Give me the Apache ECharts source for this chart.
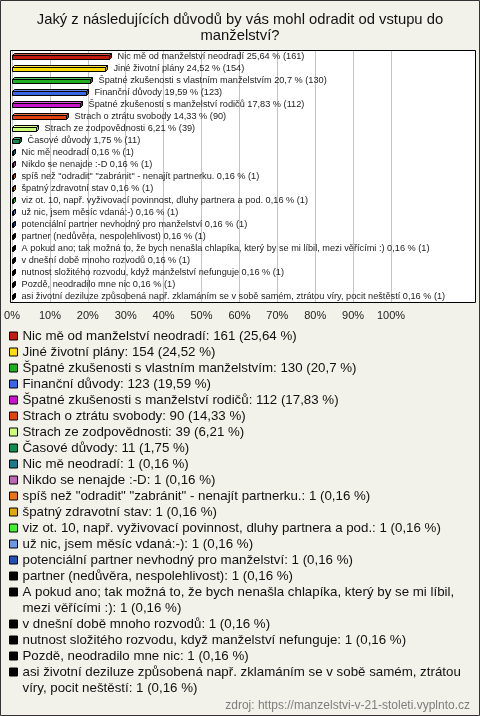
<!DOCTYPE html>
<html>
<head>
<meta charset="utf-8">
<script src="https://cdn.jsdelivr.net/npm/echarts@6/dist/echarts.min.js"></script>
<style>
html,body{margin:0;padding:0;background:#f3f2ea;}
#chart{width:480px;height:716px;}
</style>
</head>
<body>
<div id="chart"></div>
<script>
const titleText = 'Jaký z následujících důvodů by vás mohl odradit od vstupu do\nmanželství?';
const sourceText = 'zdroj: https://manzelstvi-v-21-stoleti.vyplnto.cz';

const categories = [
  'Nic mě od manželství neodradí',
  'Jiné životní plány',
  'Špatné zkušenosti s vlastním manželstvím',
  'Finanční důvody',
  'Špatné zkušenosti s manželství rodičů',
  'Strach o ztrátu svobody',
  'Strach ze zodpovědnosti',
  'Časové důvody',
  'Nic mě neodradí',
  'Nikdo se nenajde :-D',
  'spíš než "odradit" "zabránit" - nenajít partnerku.',
  'špatný zdravotní stav',
  'viz ot. 10, např. vyživovací povinnost, dluhy partnera a pod.',
  'už nic, jsem měsíc vdaná:-)',
  'potenciální partner nevhodný pro manželství',
  'partner (nedůvěra, nespolehlivost)',
  'A pokud ano; tak možná to, že bych nenašla chlapíka, který by se mi líbil, mezi věřícími :)',
  'v dnešní době mnoho rozvodů',
  'nutnost složitého rozvodu, když manželství nefunguje',
  'Pozdě, neodradilo mne nic',
  'asi životní deziluze způsobená např. zklamáním se v sobě samém, ztrátou víry, pocit neštěstí'
];
const percents = [25.64, 24.52, 20.7, 19.59, 17.83, 14.33, 6.21, 1.75, 0.16, 0.16, 0.16, 0.16, 0.16, 0.16, 0.16, 0.16, 0.16, 0.16, 0.16, 0.16, 0.16];
const counts = [161, 154, 130, 123, 112, 90, 39, 11, 1, 1, 1, 1, 1, 1, 1, 1, 1, 1, 1, 1, 1];
const colors = ['#c21a0e', '#ffdd00', '#1fae1f', '#3a66e6', '#c814c8', '#e0420e', '#ccff77', '#138a52',
  '#1e7a8c', '#c064b4', '#e87512', '#dea600', '#44ee33', '#6d97e0', '#2450b0',
  '#000000', '#000000', '#000000', '#000000', '#000000', '#000000'];
const xTickMax = 100, xTickStep = 10;

const FONT = '"Liberation Sans", Arial, sans-serif';
const fmt = v => String(v).replace('.', ',');

function mix(hex, target, t) {
  const n = parseInt(hex.slice(1), 16);
  const r = (n >> 16) & 255, g = (n >> 8) & 255, b = n & 255;
  const m = c => Math.round(c + (target - c) * t);
  return 'rgb(' + m(r) + ',' + m(g) + ',' + m(b) + ')';
}

function renderBar(params, api) {
  const val = api.value(0), cat = api.value(1);
  const s = api.coord([0, cat]), e = api.coord([val, cat]);
  const yc = Math.round(s[1]);
  const x0 = Math.round(s[0]) + 0.5;
  const x1 = Math.max(Math.round(e[0]) + 0.5, x0 + 1);
  const d = 2, top = yc - 1.5, bot = yc + 2.5;
  const i = params.seriesIndex;
  const col = colors[i];
  return {
    type: 'group',
    children: [
      {type: 'polygon', shape: {points: [[x0, top], [x0 + d, top - d], [x1 + d, top - d], [x1, top]]},
        style: {fill: mix(col, 255, 0.25), stroke: '#000', lineWidth: 1}},
      {type: 'polygon', shape: {points: [[x1, top], [x1 + d, top - d], [x1 + d, bot - d], [x1, bot]]},
        style: {fill: mix(col, 0, 0.25), stroke: '#000', lineWidth: 1}},
      {type: 'rect', shape: {x: x0, y: top, width: x1 - x0, height: bot - top},
        style: {fill: col, stroke: '#000', lineWidth: 1}},
      {type: 'text', x: x1 + d + 6, y: yc - 1,
        style: {text: categories[i] + ' ' + fmt(percents[i]) + ' % (' + counts[i] + ')',
          font: '9.2px ' + FONT, fill: '#222', verticalAlign: 'middle', align: 'left'}}
    ]
  };
}

// legend text with greedy word wrap measured on a canvas
const legendFontSize = 13.3, legendWrap = 444;
const measureCtx = document.createElement('canvas').getContext('2d');
measureCtx.font = legendFontSize + 'px ' + FONT;
function wrapText(text, maxW) {
  const words = text.split(' ');
  const lines = [];
  let cur = '';
  words.forEach(w => {
    const cand = cur ? cur + ' ' + w : w;
    if (cur && measureCtx.measureText(cand).width > maxW) { lines.push(cur); cur = w; }
    else cur = cand;
  });
  if (cur) lines.push(cur);
  return lines.join('\n');
}
function legendLabel(i) { return wrapText(categories[i] + ': ' + counts[i] + ' (' + fmt(percents[i]) + ' %)', legendWrap); }

const series = categories.map((name, i) => ({
  type: 'custom',
  name: name,
  xAxisIndex: 0,
  yAxisIndex: 0,
  itemStyle: {color: colors[i]},
  encode: {x: 0, y: 1},
  data: [[percents[i], i]],
  renderItem: renderBar
}));

// legend blocks: [first index, last index, top, two-line]
const legendBlocks = [[0, 15, 328, false], [16, 16, 584, true], [17, 19, 616, false], [20, 20, 664, true]];
const legendText = {fontSize: legendFontSize, lineHeight: 16, color: '#111', fontFamily: FONT};
const legends = legendBlocks.map(b => ({
  orient: 'vertical', left: 9, top: b[2], padding: 0, itemGap: 0,
  itemWidth: 8, itemHeight: b[3] ? 24 : 8,
  icon: b[3] ? 'path://M0,0L8,0L8,8L0,8Z M0,24' : 'rect',
  selectedMode: false,
  itemStyle: {borderColor: '#000', borderWidth: 1},
  data: categories.slice(b[0], b[1] + 1),
  formatter: name => legendLabel(categories.indexOf(name)),
  textStyle: legendText
}));

const chart = echarts.init(document.getElementById('chart'), null, {renderer: 'canvas'});
chart.setOption({
  backgroundColor: '#f3f2ea',
  animation: false,
  textStyle: {fontFamily: FONT},
  title: [
    {text: titleText, left: 'center', top: 12, padding: 0,
      textStyle: {fontSize: 14.8, lineHeight: 16, fontWeight: 'normal', color: '#111', fontFamily: FONT}},
    {text: sourceText, right: 10, top: 699, padding: 0,
      textStyle: {fontSize: 12, lineHeight: 14, fontWeight: 'normal', color: '#7d7d7d', fontFamily: FONT}}
  ],
  grid: [
    {left: 10.5, right: 4.5, top: 50.5, bottom: 413.5, show: true, backgroundColor: '#ffffff', borderWidth: 0, outerBoundsMode: 'none'},
    {left: 12, right: 89, top: 50.5, bottom: 413.5, outerBoundsMode: 'none', containLabel: false},
    {left: 10.5, right: 4.5, top: 50.5, bottom: 413.5, show: true, backgroundColor: 'transparent', borderColor: '#000', borderWidth: 1, z: 10, outerBoundsMode: 'none'}
  ],
  xAxis: [{
    type: 'value', gridIndex: 1, min: 0, max: xTickMax, interval: xTickStep,
    axisLine: {show: false}, axisTick: {show: false},
    splitLine: {show: true, lineStyle: {color: '#c4c4c4', width: 1}},
    axisLabel: {formatter: '{value}%', fontSize: 11, color: '#222', margin: 8, fontFamily: FONT}
  }],
  yAxis: [{
    type: 'category', gridIndex: 1, data: categories, inverse: true,
    axisLine: {show: false}, axisTick: {show: false}, axisLabel: {show: false}, splitLine: {show: false}
  }],
  legend: legends,
  graphic: [{
    type: 'rect', z: 100, silent: true,
    shape: {x: 0.5, y: 0.5, width: 479, height: 715},
    style: {fill: 'none', stroke: '#333', lineWidth: 1}
  }],
  series: series
});
</script>
</body>
</html>
